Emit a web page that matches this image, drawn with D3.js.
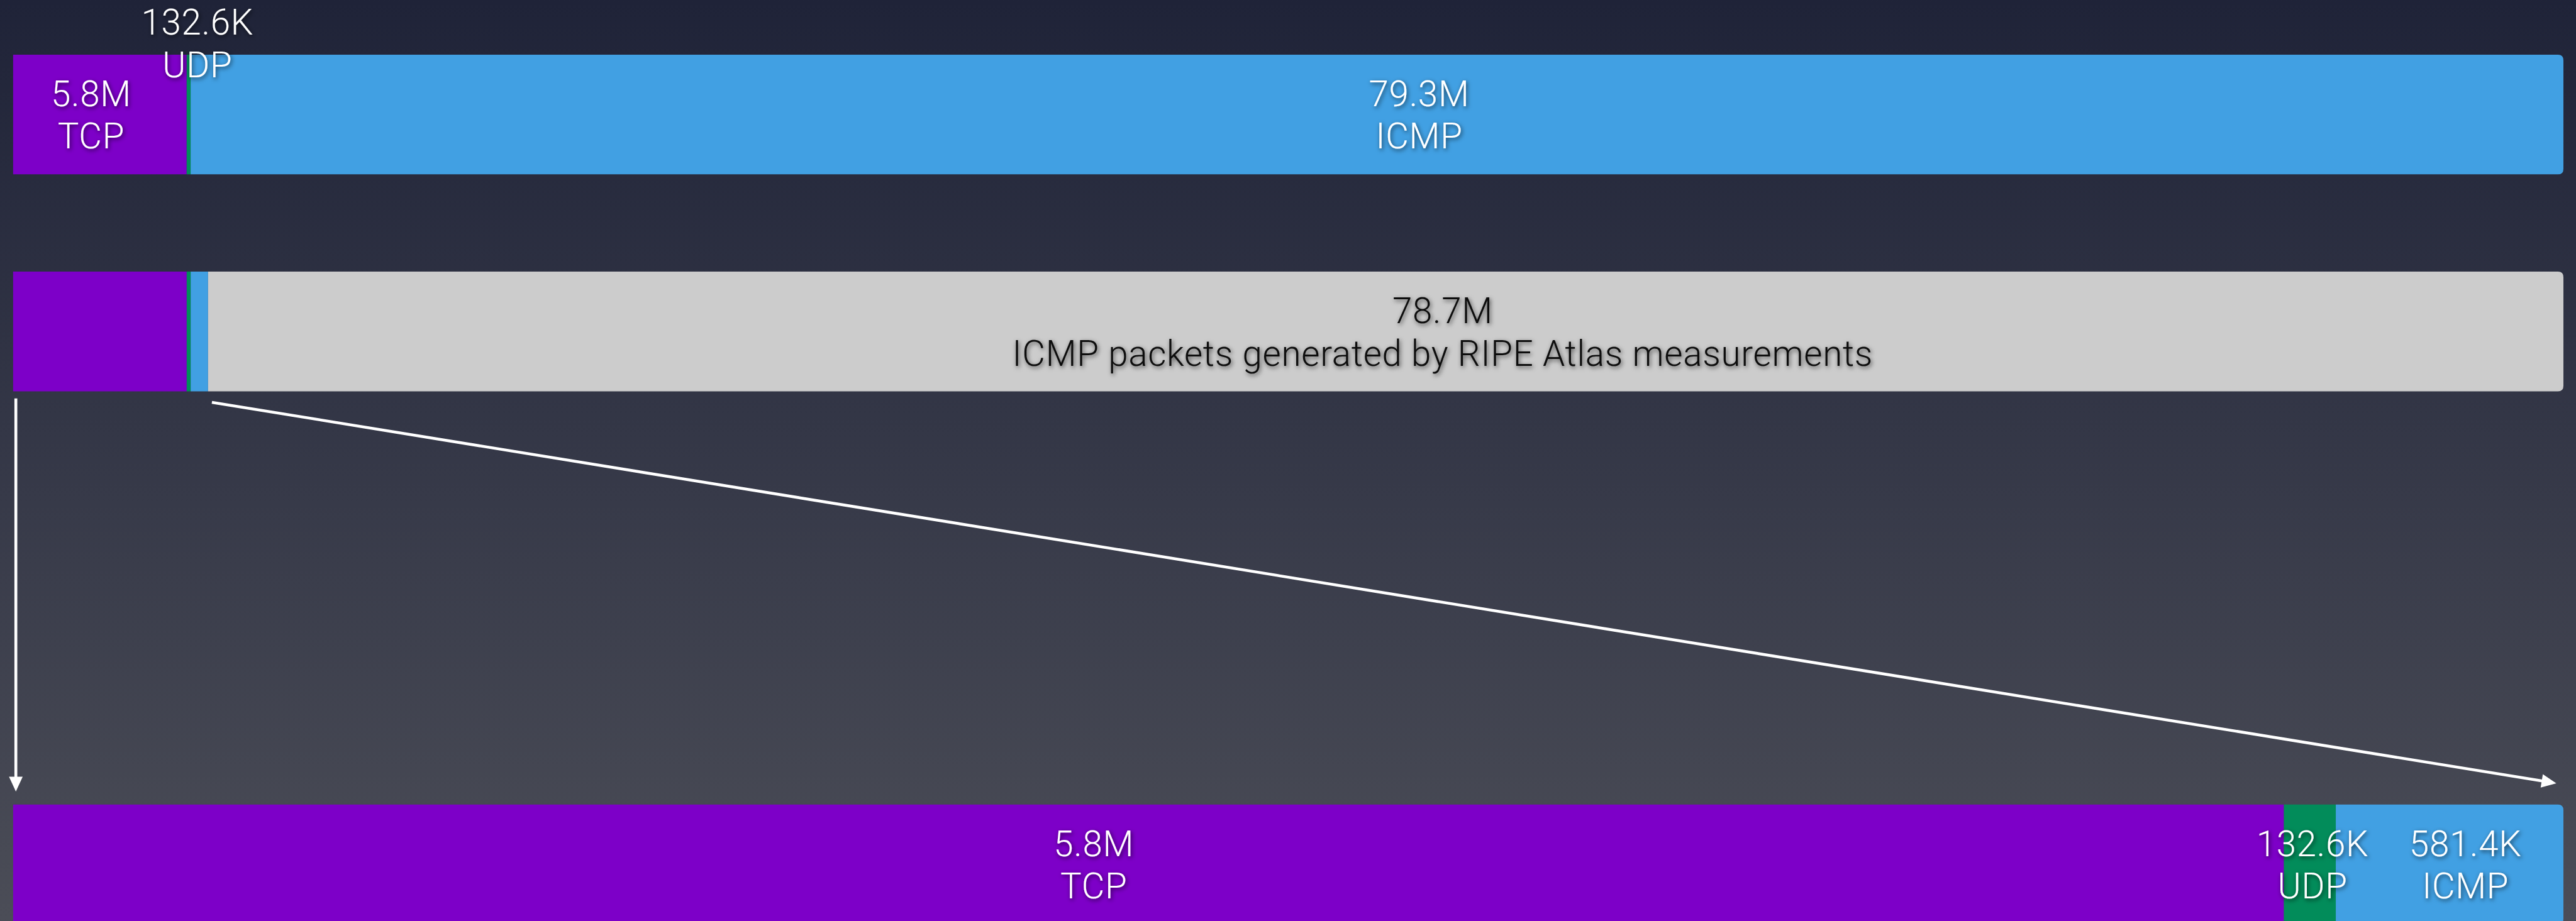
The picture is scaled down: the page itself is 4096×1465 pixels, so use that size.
<!DOCTYPE html>
<html>
<head>
<meta charset="utf-8">
<script src="https://cdn.jsdelivr.net/npm/d3@7"></script>
<style>
  html, body { margin: 0; padding: 0; overflow: hidden; background: #1f2338; }
  svg { display: block; }
</style>
</head>
<body>
<svg id="chart"></svg>
<script>
// ---- data -------------------------------------------------------------
const protocols       = ["TCP", "UDP", "ICMP"];
const allTraffic      = [5800000, 132600, 79300000];   // packets seen, by protocol
const nonAtlasTraffic = [5800000, 132600, 581400];     // packets left once Atlas ICMP is removed
const atlasIcmp       = 78700000;                      // ICMP packets from RIPE Atlas
const atlasCaption    = "ICMP packets generated by RIPE Atlas measurements";

// ---- layout (drawing units, scaled to the window by the viewBox) -------
const W = 4711, H = 1685;
const barLeft = 24, barRight = 4688, barH = 219, corner = 10;
const rowTops = [100, 497, 1472];
const fontSize = 65, letterSpacing = 0.8, line1 = 94, line2 = 172;
const colors = { TCP: "#7d00c8", UDP: "#028c5a", ICMP: "#41a0e3", ATLAS: "#cccccc" };
// hand-placed label nudges per row / segment
const nudgeTop = [-16, 16, 77], raiseTopUdp = -131;
const nudgeAtlas = 104;
const nudgeBottom = [-100, 5, 29];

const fmt = v => v >= 1e6 ? (v / 1e6).toFixed(1) + "M" : (v / 1e3).toFixed(1) + "K";

const svg = d3.select("#chart")
  .attr("width", 4096).attr("height", 1465)
  .attr("viewBox", `0 0 ${W} ${H}`)
  .attr("preserveAspectRatio", "none");

const defs = svg.append("defs");
const bg = defs.append("linearGradient").attr("id", "bg")
  .attr("x1", 0).attr("y1", 0).attr("x2", 0).attr("y2", 1);
bg.append("stop").attr("offset", 0).attr("stop-color", "#1f2338");
bg.append("stop").attr("offset", 1).attr("stop-color", "#4b4d57");

const shadow = defs.append("filter").attr("id", "shadow")
  .attr("x", "-20%").attr("y", "-40%").attr("width", "140%").attr("height", "180%");
shadow.append("feDropShadow").attr("dx", 2).attr("dy", 3)
  .attr("stdDeviation", 4.5).attr("flood-color", "#000").attr("flood-opacity", 0.65);

svg.append("rect").attr("width", W).attr("height", H).attr("fill", "url(#bg)");

// rectangle with only the right-hand corners rounded
function rightRounded(x0, x1, y, h, r) {
  return `M${x0},${y}H${x1 - r}Q${x1},${y} ${x1},${y + r}V${y + h - r}` +
         `Q${x1},${y + h} ${x1 - r},${y + h}H${x0}Z`;
}

// stack segments along x with a linear scale on packet counts
function stack(values, keys) {
  const total = d3.sum(values);
  const x = d3.scaleLinear().domain([0, total]).range([barLeft, barRight]);
  let acc = 0;
  return values.map((v, i) => {
    const s = { key: keys[i], value: v, x0: x(acc), x1: x(acc + v) };
    acc += v;
    return s;
  });
}

function drawBar(segs, top) {
  const g = svg.append("g");
  g.selectAll("path").data(segs).join("path")
    .attr("d", (d, i) => i === segs.length - 1
      ? rightRounded(d.x0, d.x1, top, barH, corner)
      : `M${d.x0},${top}H${d.x1}V${top + barH}H${d.x0}Z`)
    .attr("fill", d => colors[d.key]);
  return g;
}

function drawLabel(cx, top, lines, fill) {
  const t = svg.append("text")
    .attr("text-anchor", "middle")
    .attr("font-family", "Roboto, 'Helvetica Neue', 'Liberation Sans', sans-serif")
    .attr("font-weight", 300)
    .attr("font-size", fontSize)
    .attr("letter-spacing", letterSpacing)
    .attr("fill", fill)
    .attr("filter", "url(#shadow)");
  t.append("tspan").attr("x", cx).attr("y", top + line1).text(lines[0]);
  t.append("tspan").attr("x", cx).attr("y", top + line2).text(lines[1]);
}

// row 1: all traffic
const topSegs = stack(allTraffic, protocols);
drawBar(topSegs, rowTops[0]);
topSegs.forEach((d, i) => {
  const lift = d.key === "UDP" ? raiseTopUdp : 0;
  drawLabel((d.x0 + d.x1) / 2 + nudgeTop[i], rowTops[0] + lift, [fmt(d.value), d.key], "#fff");
});

// row 2: same traffic with the Atlas ICMP share split out
const midSegs = stack(nonAtlasTraffic.concat([atlasIcmp]), protocols.concat(["ATLAS"]));
drawBar(midSegs, rowTops[1]);
const atlasSeg = midSegs[midSegs.length - 1];
drawLabel((atlasSeg.x0 + atlasSeg.x1) / 2 + nudgeAtlas, rowTops[1],
  [fmt(atlasSeg.value), atlasCaption], "#111");

// row 3: zoom into the non-Atlas traffic
const botSegs = stack(nonAtlasTraffic, protocols);
drawBar(botSegs, rowTops[2]);
botSegs.forEach((d, i) => {
  drawLabel((d.x0 + d.x1) / 2 + nudgeBottom[i], rowTops[2], [fmt(d.value), d.key], "#fff");
});

// ---- zoom arrows ------------------------------------------------------
const headLen = 27, headW = 25, stroke = 5.3;
function arrow(x1, y1, x2, y2) {
  const a = Math.atan2(y2 - y1, x2 - x1);
  const bx = x2 - headLen * Math.cos(a), by = y2 - headLen * Math.sin(a);
  const px = -Math.sin(a) * headW / 2, py = Math.cos(a) * headW / 2;
  svg.append("line")
    .attr("x1", x1).attr("y1", y1).attr("x2", bx + Math.cos(a)).attr("y2", by + Math.sin(a))
    .attr("stroke", "#fff").attr("stroke-width", stroke);
  svg.append("path")
    .attr("d", `M${x2},${y2}L${bx + px},${by + py}L${bx - px},${by - py}Z`)
    .attr("fill", "#fff");
}
const midBottom = rowTops[1] + barH;
const icmpEnd = midSegs[2].x1;
arrow(barLeft + 5, midBottom + 13, barLeft + 5, rowTops[2] - 24);
arrow(icmpEnd + 7, midBottom + 20, botSegs[2].x1 - 13, rowTops[2] - 39);
</script>
</body>
</html>
